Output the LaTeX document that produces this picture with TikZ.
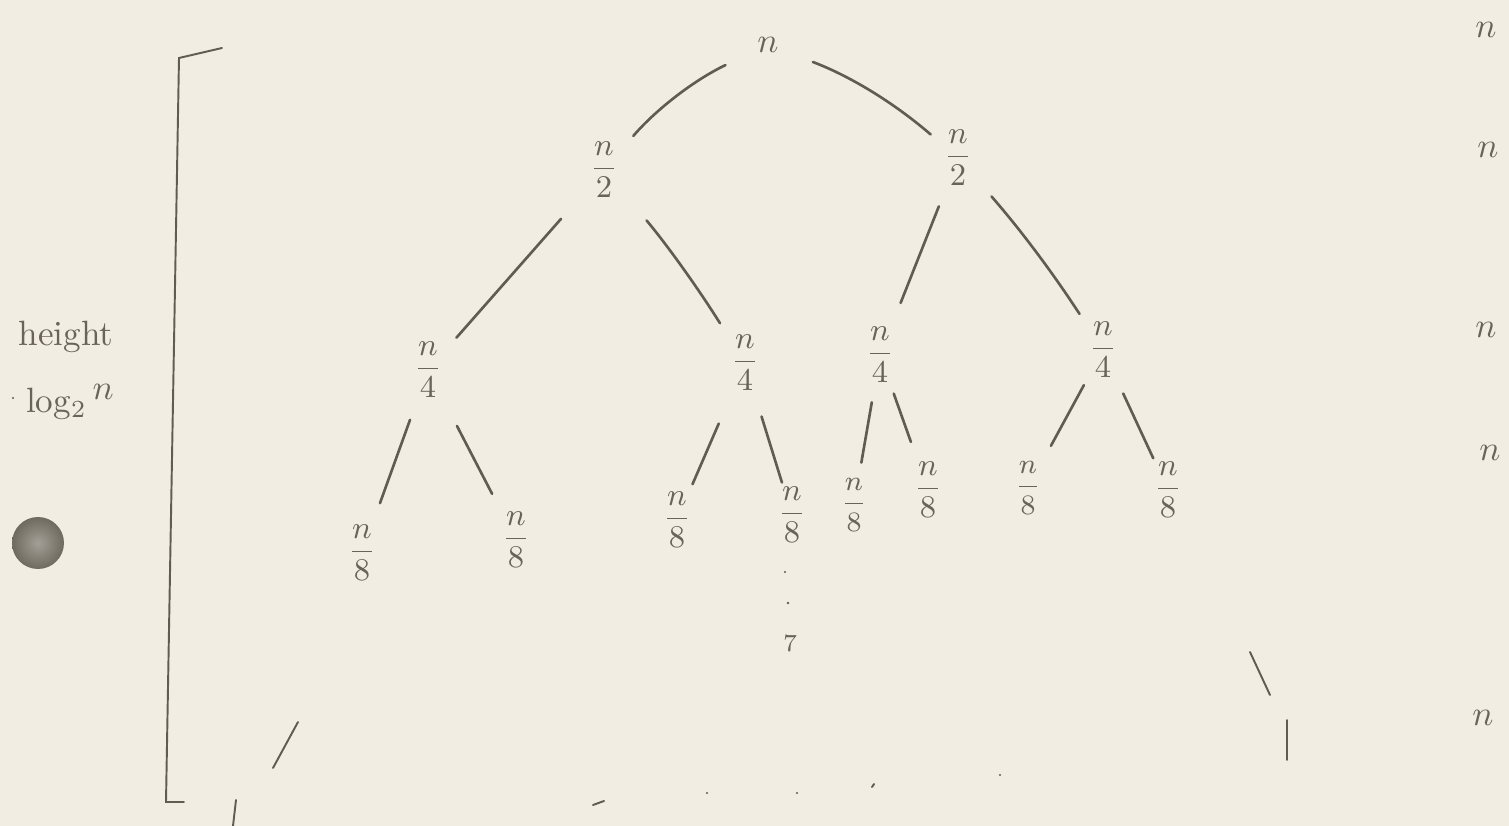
\documentclass[tikz,border=0pt]{standalone}
\usepackage{amsmath}
\begin{document}
\begin{tikzpicture}[x=1cm,y=1cm,
  pencil/.style={draw=pen, line width=0.75pt, line cap=round},
  thinpen/.style={draw=pen, line width=0.55pt, line cap=round},
  lbl/.style={text=ink, inner sep=0pt, font=\small},
  sml/.style={text=ink, inner sep=0pt, font=\small},
  tiny/.style={text=ink, inner sep=0pt, font=\footnotesize},
  side/.style={text=ink, inner sep=0pt, font=\normalsize}]
\definecolor{paper}{HTML}{F2EDE3}
\definecolor{pen}{HTML}{625C50}
\definecolor{ink}{HTML}{6A6458}
\definecolor{hole}{HTML}{8C877C}
\definecolor{holeedge}{HTML}{6F6A60}
\fill[paper] (0,0) rectangle (15.09,-8.26);
\useasboundingbox (0,0) rectangle (15.09,-8.26);
% hole punch
\shade[inner color=hole!80!white, outer color=holeedge] (0.38,-5.43) circle (0.26);
% tree nodes
\node[side] (r) at (7.68,-0.45) {$n$};
\node[lbl] (L) at (6.04,-1.70) {$\dfrac{n}{2}$};
\node[lbl] (R) at (9.58,-1.58) {$\dfrac{n}{2}$};
\node[lbl] (A) at (4.28,-3.70) {$\dfrac{n}{4}$};
\node[lbl] (B) at (7.45,-3.63) {$\dfrac{n}{4}$};
\node[lbl] (C) at (8.80,-3.55) {$\dfrac{n}{4}$};
\node[lbl] (D) at (11.03,-3.50) {$\dfrac{n}{4}$};
\node[sml] (a1) at (3.62,-5.53) {$\dfrac{n}{8}$};
\node[sml] (a2) at (5.16,-5.40) {$\dfrac{n}{8}$};
\node[sml] (b1) at (6.77,-5.20) {$\dfrac{n}{8}$};
\node[sml] (b2) at (7.92,-5.15) {$\dfrac{n}{8}$};
\node[tiny] (c1) at (8.54,-5.05) {$\dfrac{n}{8}$};
\node[sml] (c2) at (9.28,-4.90) {$\dfrac{n}{8}$};
\node[tiny] (d1) at (10.28,-4.88) {$\dfrac{n}{8}$};
\node[sml] (d2) at (11.68,-4.90) {$\dfrac{n}{8}$};
% edges
\draw[pencil, shorten <=0.47cm, shorten >=0.45cm] (r.center) to[bend right=12] (L.center);
\draw[pencil, shorten <=0.48cm, shorten >=0.36cm] (r.center) to[bend left=10] (R.center);
\draw[pencil, shorten <=0.65cm, shorten >=0.43cm] (L.center) -- (A.center);
\draw[pencil, shorten <=0.66cm, shorten >=0.47cm] (L.center) to[bend left=4] (B.center);
\draw[pencil, shorten <=0.52cm, shorten >=0.56cm] (R.center) -- (C.center);
\draw[pencil, shorten <=0.51cm, shorten >=0.43cm] (R.center) to[bend left=4] (D.center);
\draw[pencil, shorten <=0.53cm, shorten >=0.53cm] (A.center) -- (a1.center);
\draw[pencil, shorten <=0.63cm, shorten >=0.52cm] (A.center) -- (a2.center);
\draw[pencil, shorten <=0.66cm, shorten >=0.39cm] (B.center) -- (b1.center);
\draw[pencil, shorten <=0.56cm, shorten >=0.34cm] (B.center) -- (b2.center);
\draw[pencil, shorten <=0.48cm, shorten >=0.43cm] (C.center) -- (c1.center);
\draw[pencil, shorten <=0.41cm, shorten >=0.51cm] (C.center) -- (c2.center);
\draw[pencil, shorten <=0.40cm, shorten >=0.48cm] (D.center) -- (d1.center);
\draw[pencil, shorten <=0.48cm, shorten >=0.35cm] (D.center) -- (d2.center);
% dots under b2
\fill[pen] (7.85,-5.72) circle (0.012);
\fill[pen] (7.88,-6.03) circle (0.014);
\node[tiny] (seven) at (7.90,-6.43) {\scriptsize 7};
% right column
\node[side] (n0) at (14.86,-0.30) {$n$};
\node[side] (n1) at (14.88,-1.50) {$n$};
\node[side] (n2) at (14.86,-3.30) {$n$};
\node[side] (n3) at (14.90,-4.53) {$n$};
\node[side] (n4) at (14.83,-7.18) {$n$};
% height label
\node[text=ink, inner sep=0pt, font=\normalsize] (h) at (0.66,-3.37) {height};
\node[text=ink, inner sep=0pt, font=\normalsize] (lg) at (0.70,-4.02) {log$_2$\,\raisebox{0.8ex}{$n$}};
\fill[pen] (0.13,-3.98) circle (0.012);
% bracket
\coordinate (bt) at (2.22,-0.48);
\coordinate (btl) at (1.79,-0.58);
\coordinate (bbl) at (1.66,-8.02);
\coordinate (bb) at (1.84,-8.02);
\draw[thinpen] (bt) -- (btl) -- (bbl) -- (bb);
% stray marks at the bottom
\coordinate (s1a) at (2.98,-7.22); \coordinate (s1b) at (2.73,-7.68);
\draw[thinpen] (s1a) -- (s1b);
\coordinate (s2a) at (2.36,-8.00); \coordinate (s2b) at (2.33,-8.26);
\draw[thinpen] (s2a) -- (s2b);
\coordinate (s3a) at (5.93,-8.05); \coordinate (s3b) at (6.04,-8.01);
\draw[thinpen] (s3a) -- (s3b);
\fill[pen] (7.07,-7.93) circle (0.012);
\fill[pen] (7.97,-7.93) circle (0.012);
\draw[thinpen] (8.74,-7.84) -- (8.72,-7.87);
\fill[pen] (10.00,-7.75) circle (0.012);
\coordinate (s4a) at (12.50,-6.52); \coordinate (s4b) at (12.70,-6.95);
\draw[thinpen] (s4a) -- (s4b);
\coordinate (s5a) at (12.87,-7.20); \coordinate (s5b) at (12.87,-7.60);
\draw[thinpen] (s5a) -- (s5b);
\end{tikzpicture}
\end{document}
